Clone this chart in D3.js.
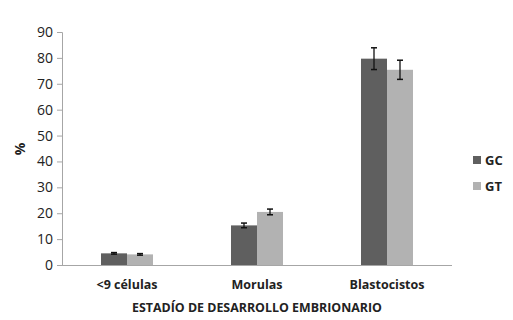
<!DOCTYPE html>
<html><head><meta charset="utf-8">
<script src="https://cdn.jsdelivr.net/npm/d3@7/dist/d3.min.js"></script>
<style>body{margin:0;background:#fff}svg{display:block}text{font-family:"Open Sans","Liberation Sans",sans-serif;fill:#222}</style>
</head><body><svg id="c" width="513" height="320"></svg>
<script>
const categories = ["<9 células", "Morulas", "Blastocistos"];
const seriesNames = ["GC", "GT"];
const gcValues = [4.5, 15.3, 79.7];
const gtValues = [4.1, 20.5, 75.4];
const gcErrors = [0.3, 0.9, 4.2];
const gtErrors = [0.3, 1.1, 3.7];
const yTicks = [0, 10, 20, 30, 40, 50, 60, 70, 80, 90];
const colors = ["#5f5f5f", "#b2b2b2"];

const svg = d3.select("#c");
const x0 = d3.scaleBand().domain(categories).range([62, 452]);
const x1 = d3.scaleBand().domain(seriesNames).range([0, 52]);
const y = d3.scaleLinear().domain([0, 90]).range([265, 32]);

const yAxis = svg.append("g").attr("transform", "translate(62,0)")
  .call(d3.axisLeft(y).tickValues(yTicks).tickSize(5).tickPadding(4));
yAxis.select(".domain").attr("stroke", "#a6a6a6").attr("d", "M-5,32.5H0.5V265.5");
yAxis.selectAll(".tick line").attr("stroke", "#a6a6a6");
yAxis.selectAll("text").style("font-size", "14px").attr("fill", "#333");

svg.append("line").attr("x1", 57).attr("x2", 452).attr("y1", 265.5).attr("y2", 265.5).attr("stroke", "#a6a6a6");

const data = categories.map((c, i) => ({c, vals: [
  {s: "GC", v: gcValues[i], e: gcErrors[i], col: colors[0]},
  {s: "GT", v: gtValues[i], e: gtErrors[i], col: colors[1]}]}));

const g = svg.selectAll("g.cat").data(data).join("g")
  .attr("transform", d => `translate(${x0(d.c) + (x0.bandwidth() - 52) / 2},0)`);
g.selectAll("rect").data(d => d.vals).join("rect")
  .attr("x", d => x1(d.s)).attr("width", x1.bandwidth())
  .attr("y", d => y(d.v)).attr("height", d => y(0) - y(d.v)).attr("fill", d => d.col);
const eb = g.selectAll("g.eb").data(d => d.vals).join("g");
eb.append("line").attr("x1", d => x1(d.s) + 13).attr("x2", d => x1(d.s) + 13)
  .attr("y1", d => y(d.v + d.e)).attr("y2", d => y(d.v - d.e)).attr("stroke", "#111").attr("stroke-width", 1.3);
[1, -1].forEach(sg => eb.append("line").attr("x1", d => x1(d.s) + 10).attr("x2", d => x1(d.s) + 16)
  .attr("y1", d => y(d.v + sg * d.e)).attr("y2", d => y(d.v + sg * d.e)).attr("stroke", "#111").attr("stroke-width", 1.5));

svg.selectAll("text.cl").data(categories).join("text").attr("class", "cl")
  .attr("x", d => x0(d) + x0.bandwidth() / 2).attr("y", 289).attr("text-anchor", "middle")
  .style("font-size", "12.5px").style("font-weight", "bold").text(d => d);

svg.append("text").attr("x", 257).attr("y", 312).attr("text-anchor", "middle")
  .style("font-size", "12.4px").style("font-weight", "bold").text("ESTADÍO DE DESARROLLO EMBRIONARIO");

svg.append("text").attr("transform", "translate(25,149) rotate(-90)").attr("text-anchor", "middle")
  .style("font-size", "14px").style("font-weight", "bold").text("%");

const leg = svg.selectAll("g.leg").data(seriesNames).join("g")
  .attr("transform", (d, i) => `translate(473,${156 + i * 26})`);
leg.append("rect").attr("width", 8).attr("height", 8).attr("fill", (d, i) => colors[i]);
leg.append("text").attr("x", 12).attr("y", 9).style("font-size", "13px").style("font-weight", "bold").text(d => d);
</script></body></html>
